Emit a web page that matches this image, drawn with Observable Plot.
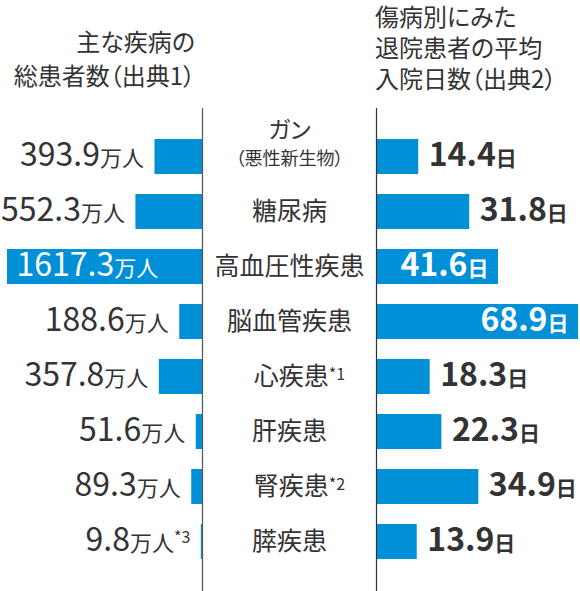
<!DOCTYPE html>
<html>
<head>
<meta charset="utf-8">
<script src="https://cdn.jsdelivr.net/npm/d3@7"></script>
<script src="https://cdn.jsdelivr.net/npm/@observablehq/plot@0.6"></script>
<style>
  html, body { margin: 0; padding: 0; background: #fff; }
  body { width: 580px; height: 591px; position: relative; overflow: hidden;
         font-family: "Noto Sans CJK JP", "Noto Sans", sans-serif; color: #333; }
  .title { position: absolute; font-size: 24px; color: #333; white-space: nowrap;
           font-feature-settings: "palt"; }
  #tl { right: 385px; top: 24px; text-align: right; line-height: 34px; }
  #tr { left: 375px; top: 0px; text-align: left; line-height: 31px; }
  #charts { position: absolute; left: 0; top: 108px; display: flex; }
  #charts svg { display: block; overflow: visible; }
  .palt { font-feature-settings: "palt"; }
</style>
</head>
<body>
<div class="title" id="tl"></div>
<div class="title" id="tr"></div>
<div id="charts"></div>
<script>
// ---- data ----
const diseases = ["ガン", "糖尿病", "高血圧性疾患", "脳血管疾患", "心疾患", "肝疾患", "腎疾患", "膵疾患"];
const diseaseSub = ["（悪性新生物）", "", "", "", "", "", "", ""];
const diseaseNote = ["", "", "", "", "*1", "", "*2", ""];
const patients = [393.9, 552.3, 1617.3, 188.6, 357.8, 51.6, 89.3, 9.8]; // 万人
const patientNote = ["", "", "", "", "", "", "", "*3"];
const days = [14.4, 31.8, 41.6, 68.9, 18.3, 22.3, 34.9, 13.9]; // 日
const titleLeft = ["主な疾病の", "総患者数（出典1）"];
const titleRight = ["傷病別にみた", "退院患者の平均", "入院日数（出典2）"];
const unitLeft = "万人";
const unitRight = "日";

// ---- styles ----
const blue = "#0090d8";
const ink = "#333";
const font = "'Noto Sans CJK JP', 'Noto Sans', sans-serif";
const H = 483, MT = 10, MB = 12;

document.getElementById("tl").innerHTML = titleLeft.join("<br>");
document.getElementById("tr").innerHTML = titleRight.join("<br>");

const rows = diseases.map((name, i) => ({
  name, sub: diseaseSub[i], note: diseaseNote[i],
  patients: patients[i], pnote: patientNote[i], days: days[i]
}));
const maxP = d3.max(patients), maxD = d3.max(days);
const leftLabel = d => d.patients.toFixed(1) + unitLeft + d.pnote;
const rightLabel = d => d.days.toFixed(1) + unitRight;

const yOpt = {type: "band", domain: diseases, padding: 0.37, axis: null};
const baseStyle = {fontFamily: font, fontSize: "25px", background: "transparent", overflow: "visible", color: ink};

const left = Plot.plot({
  width: 203, height: H, marginLeft: 7, marginRight: 1, marginTop: MT, marginBottom: MB,
  x: {domain: [0, maxP], reverse: true, axis: null},
  y: yOpt,
  style: baseStyle,
  marks: [
    Plot.barX(rows, {x: "patients", y: "name", fill: blue}),
    Plot.ruleX([0], {stroke: "#555", strokeWidth: 1.2, insetTop: -MT, insetBottom: -MB}),
    Plot.text(rows.filter(d => d.patients < 0.55 * maxP), {x: "patients", y: "name", text: leftLabel,
      textAnchor: "end", dx: -11, dy: -1, fill: ink, fontSize: 32}),
    Plot.text(rows.filter(d => d.patients >= 0.55 * maxP), {x: "patients", y: "name", text: leftLabel,
      textAnchor: "start", dx: 9, dy: -1, fill: "white", fontSize: 32})
  ]
});

const center = Plot.plot({
  width: 172, height: H, marginLeft: 0, marginRight: 0, marginTop: MT, marginBottom: MB,
  y: yOpt,
  style: baseStyle,
  marks: [
    Plot.text(rows.filter(d => !d.sub && !d.note), {y: "name", text: "name", fill: ink, fontSize: 25}),
    Plot.text(rows.filter(d => !d.sub && d.note), {y: "name", text: d => d.name + d.note, dx: 10, fill: ink, fontSize: 25}),
    Plot.text(rows.filter(d => d.sub), {y: "name", text: "name", dy: -26, fill: ink, fontSize: 23}),
    Plot.text(rows.filter(d => d.sub), {y: "name", text: "sub", dy: 2, fill: ink, fontSize: 18})
  ]
});

const right = Plot.plot({
  width: 205, height: H, marginLeft: 1, marginRight: 2, marginTop: MT, marginBottom: MB,
  x: {domain: [0, maxD], axis: null},
  y: yOpt,
  style: baseStyle,
  marks: [
    Plot.barX(rows, {x: "days", y: "name", fill: blue}),
    Plot.ruleX([0], {stroke: "#333", strokeWidth: 1.2, insetTop: -MT, insetBottom: -MB}),
    Plot.text(rows.filter(d => d.days < 0.55 * maxD), {x: "days", y: "name", text: rightLabel,
      textAnchor: "start", dx: 10, dy: -1, fill: ink, fontSize: 32, fontWeight: "bold"}),
    Plot.text(rows.filter(d => d.days >= 0.55 * maxD), {x: "days", y: "name", text: rightLabel,
      textAnchor: "end", dx: -10, dy: -1, fill: "white", fontSize: 32, fontWeight: "bold"})
  ]
});

const svgNS = "http://www.w3.org/2000/svg";
function tspan(parent, txt, size, dy) {
  if (!txt) return;
  const t = document.createElementNS(svgNS, "tspan");
  t.textContent = txt;
  t.setAttribute("font-size", size);
  if (dy) t.setAttribute("dy", dy);
  parent.appendChild(t);
}
// numbers large, units smaller, notes as superscript
function splitValues(svg, unitSize, noteSize, noteDy) {
  svg.querySelectorAll("text").forEach(t => {
    const s = t.textContent;
    const m = s.match(/^([\d.]+)([^*]*)(\*\d)?$/);
    if (!m) return;
    t.textContent = "";
    tspan(t, m[1], 32);
    tspan(t, m[2], unitSize);
    tspan(t, m[3], noteSize, noteDy);
  });
}
function splitNames(svg) {
  svg.querySelectorAll("text").forEach(t => {
    const s = t.textContent;
    t.classList.add("palt");
    const m = s.match(/^([^*]+)(\*\d)$/);
    if (!m) return;
    t.textContent = "";
    tspan(t, m[1], 25);
    tspan(t, m[2], 16, -5);
  });
}
splitValues(left, 22, 16, -8);
splitValues(right, 21, 16, -8);
splitNames(center);

const host = document.getElementById("charts");
host.appendChild(left);
host.appendChild(center);
host.appendChild(right);
</script>
</body>
</html>
